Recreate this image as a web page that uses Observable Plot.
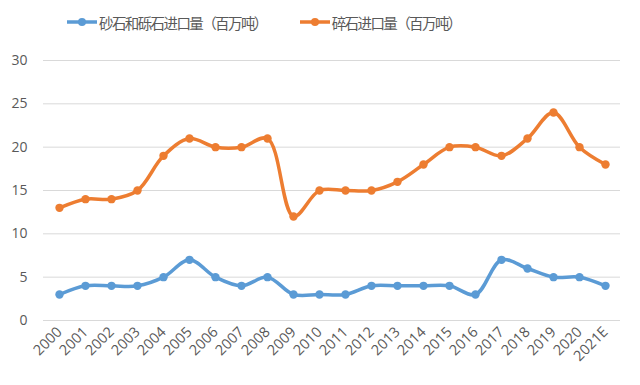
<!DOCTYPE html>
<html><head><meta charset="utf-8">
<script src="https://cdn.jsdelivr.net/npm/d3@7"></script>
<script src="https://cdn.jsdelivr.net/npm/@observablehq/plot@0.6"></script>
<style>
body{margin:0;background:#fff;font-family:"Noto Sans CJK SC","Noto Sans",sans-serif;}
#legend{height:40px;display:flex;align-items:center;font-size:14.5px;letter-spacing:-1.6px;color:#595959;padding-left:67px;box-sizing:border-box;padding-top:4px}
.item{display:flex;align-items:center;gap:2px}
.item + .item{margin-left:33px}
</style></head><body>
<div id="legend"></div>
<div id="chart"></div>
<script>
const years = ["2000","2001","2002","2003","2004","2005","2006","2007","2008","2009","2010","2011","2012","2013","2014","2015","2016","2017","2018","2019","2020","2021E"];
const sandGravel = [3,4,4,4,5,7,5,4,5,3,3,3,4,4,4,4,3,7,6,5,5,4];
const crushedStone = [13,14,14,15,19,21,20,20,21,12,15,15,15,16,18,20,20,19,21,24,20,18];
const seriesNames = ["砂石和砾石进口量（百万吨）","碎石进口量（百万吨）"];
const colors = ["#5B9BD5","#ED7D31"];

const data = [];
years.forEach((y,i)=>{
  data.push({year:y,value:sandGravel[i],series:seriesNames[0]});
  data.push({year:y,value:crushedStone[i],series:seriesNames[1]});
});

const legend = document.getElementById("legend");
seriesNames.forEach((n,i)=>{
  const d = document.createElement("div"); d.className="item";
  d.innerHTML = `<svg width="30" height="12"><line x1="0" x2="30" y1="6" y2="6" stroke="${colors[i]}" stroke-width="3.5"/><circle cx="15" cy="6" r="4" fill="${colors[i]}"/></svg><span>${n}</span>`;
  legend.appendChild(d);
});

const chart = Plot.plot({
  width: 640, height: 345,
  marginTop: 20, marginBottom: 65, marginLeft: 43, marginRight: 20,
  style: {fontFamily: "'Open Sans','Noto Sans',sans-serif", fontSize: "13px", color: "#595959", background: "transparent"},
  x: {type: "point", domain: years, padding: 0.5, label: null, tickSize: 0, tickRotate: -45, tickPadding: 6},
  y: {domain: [0,30], ticks: [0,5,10,15,20,25,30], label: null, tickSize: 0, tickPadding: 16},
  color: {domain: seriesNames, range: colors},
  marks: [
    Plot.gridY([0,5,10,15,20,25,30], {stroke: "#d9d9d9", strokeOpacity: 1, strokeWidth: 1}),
    Plot.axisY({ticks: [0,5,10,15,20,25,30], tickSize: 0, tickPadding: 16, fontSize: 14, label: null}),
    Plot.axisX({tickSize: 0, tickRotate: -45, tickPadding: 9, fontSize: 14.5, label: null}),
    Plot.line(data, {x: "year", y: "value", z: "series", stroke: "series", strokeWidth: 3.5, curve: "catmull-rom"}),
    Plot.dot(data, {x: "year", y: "value", fill: "series", r: 4.2})
  ]
});
document.getElementById("chart").appendChild(chart);
</script>
</body></html>
